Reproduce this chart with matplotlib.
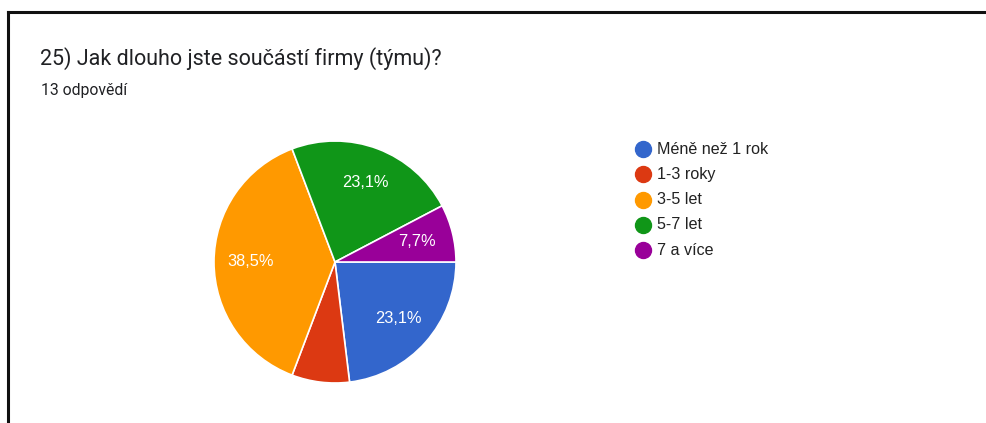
import matplotlib
matplotlib.use("Agg")
import matplotlib.pyplot as plt
from matplotlib.lines import Line2D

title = "25) Jak dlouho jste součástí firmy (týmu)?"
subtitle = "13 odpovědí"
categories = ["Méně než 1 rok", "1-3 roky", "3-5 let", "5-7 let", "7 a více"]
counts = [3, 1, 5, 3, 1]
colors = ["#3366cc", "#dc3912", "#ff9900", "#109618", "#990099"]
# slices whose percentage is printed on the wedge
show_label = [True, False, True, True, True]

W, H = 986, 423
fig = plt.figure(figsize=(W / 100, H / 100), dpi=100)
fig.patch.set_facecolor("white")

def px(x, y):
    return x / W, 1 - y / H

# frame around the card (top and left edges only)
fig.add_artist(Line2D([px(8, 0)[0], 1.0], [px(0, 12)[1]] * 2, color="#111111", lw=2.2))
fig.add_artist(Line2D([px(8, 0)[0]] * 2, [px(0, 12)[1], 0.0], color="#111111", lw=2.2))

fig.text(*px(40, 65), title, fontsize=15.5, family="Roboto", color="#202124", va="baseline")
fig.text(*px(41, 95), subtitle, fontsize=11.3, family="Roboto", color="#202124", va="baseline")

# pie
cx, cy, r = 335, 262, 121
ax = fig.add_axes([(cx - r) / W, (H - cy - r) / H, 2 * r / W, 2 * r / H])
labels_iter = iter(show_label)

def fmt(p):
    show = next(labels_iter)
    return f"{p:.1f}%".replace(".", ",") if show else ""

wedges, _, autotexts = ax.pie(counts, colors=colors, startangle=0, counterclock=False,
                              autopct=fmt, pctdistance=0.7,
                              wedgeprops=dict(edgecolor="white", linewidth=1.2))
for t in autotexts:
    t.set_color("white")
    t.set_fontsize(11.8)
    t.set_family("Liberation Sans")
ax.set_xlim(-1, 1)
ax.set_ylim(-1, 1)
ax.set_aspect("equal")
ax.axis("off")

# legend
for i, (name, c) in enumerate(zip(categories, colors)):
    y = 149 + i * 25.3
    fig.add_artist(Line2D([px(643, 0)[0]], [px(0, y)[1]], marker="o", markersize=11.5,
                          color=c, linestyle="none"))
    fig.text(*px(657, y), name, fontsize=11.6, family="Liberation Sans",
             color="#222222", va="center")

fig.savefig("out.png", dpi=100)
